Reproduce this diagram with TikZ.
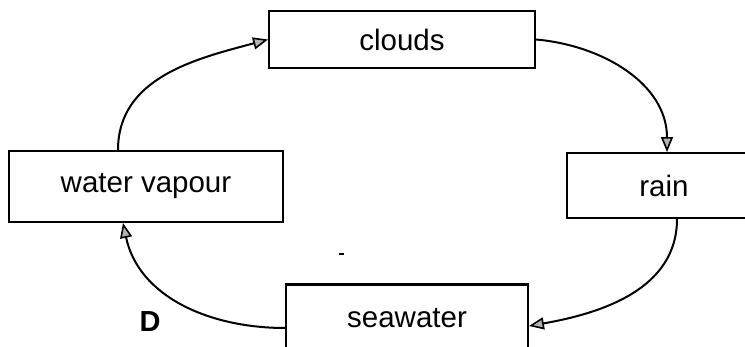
\documentclass[tikz,border=0pt]{standalone}
\usepackage{fontspec}
\setmainfont{Liberation Sans}
\usetikzlibrary{arrows.meta}
\begin{document}
\begin{tikzpicture}[x=1pt,y=-1pt,
  box/.style={draw, line width=1.9pt, inner sep=0pt, font=\fontsize{29.5}{32}\selectfont},
  flow/.style={line width=2pt, -{Triangle[length=15pt,width=12pt,line width=1.6pt,fill=gray!60]}},
  lbl/.style={font=\bfseries\fontsize{29}{30}\selectfont, inner sep=0pt}
]
\clip (0,0) rectangle (745,347);
\node[box, minimum width=266pt, minimum height=57pt] (clouds) at (402,39.5) {clouds};
\node[box, minimum width=274pt, minimum height=71pt] (wv) at (146,186.5) {water vapour};
\node[box, minimum width=194pt, minimum height=65pt] (rain) at (664,185.5) {rain};
\node[box, minimum width=242pt, minimum height=66pt] (sea) at (407,318) {seawater};
\draw[line width=2.6pt] (sea.north west) -- (sea.north east);
\node[lbl] (D) at (150,322) {D};
\coordinate (speck) at (341,254);
\draw[line width=2pt] ([xshift=-2.5pt]speck) -- ([xshift=2.5pt]speck);
\draw[flow] ([xshift=-28pt]wv.north) to[out=90,in=195] (clouds.west);
\draw[flow] (clouds.east) to[out=-5,in=90] ([xshift=3pt]rain.north);
\draw[flow] ([xshift=13pt]rain.south) to[out=-90,in=10] ([yshift=-8pt]sea.east);
\draw[flow] ([yshift=-10pt]sea.west) to[out=180,in=-78] ([xshift=-23pt]wv.south);
\end{tikzpicture}
\end{document}
